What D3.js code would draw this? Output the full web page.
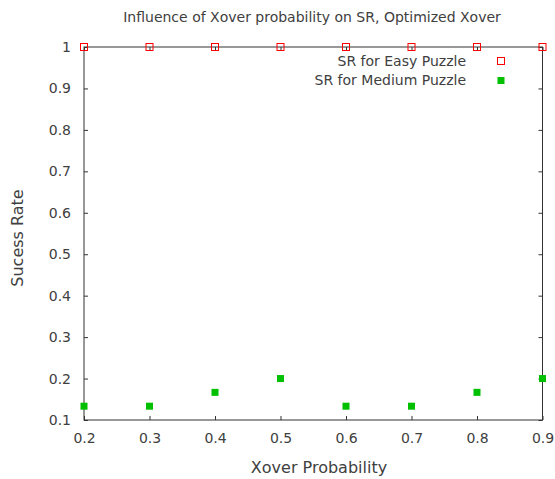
<!DOCTYPE html>
<html><head><meta charset="utf-8">
<script src="https://cdn.jsdelivr.net/npm/d3@7"></script>
<style>body{margin:0;background:#fff}svg{display:block}text{font-family:"DejaVu Sans",sans-serif;fill:#404040}</style>
</head><body><svg id="c" width="555" height="479"></svg>
<script>
const xProb = [0.2,0.3,0.4,0.5,0.6,0.7,0.8,0.9];
const easySR = [1,1,1,1,1,1,1,1];
const mediumSR = [0.1333,0.1333,0.1667,0.2,0.1333,0.1333,0.1667,0.2];
const xTicks = [0.2,0.3,0.4,0.5,0.6,0.7,0.8,0.9];
const yTicks = [0.1,0.2,0.3,0.4,0.5,0.6,0.7,0.8,0.9,1];
const seriesNames = ["SR for Easy Puzzle","SR for Medium Puzzle"];

const svg = d3.select("#c");
const L=84,R=542.5,T=47,B=420;
const x = d3.scaleLinear().domain([0.2,0.9]).range([L,R]);
const y = d3.scaleLinear().domain([0.1,1]).range([B,T]);
const fmt = d => String(+d.toFixed(1)).replace(/^1\.0$/,"1");

const tl=4;
const gx=svg.append("g").attr("transform",`translate(0,${B})`)
  .call(d3.axisBottom(x).tickValues(xTicks).tickSize(-tl).tickPadding(0).tickFormat(fmt));
const gy=svg.append("g").attr("transform",`translate(${L},0)`)
  .call(d3.axisLeft(y).tickValues(yTicks).tickSize(-tl).tickPadding(13).tickFormat(fmt));
const gt=svg.append("g").attr("transform",`translate(0,${T})`)
  .call(d3.axisTop(x).tickValues(xTicks).tickSize(-tl).tickFormat(""));
const gr=svg.append("g").attr("transform",`translate(${R},0)`)
  .call(d3.axisRight(y).tickValues(yTicks).tickSize(-tl).tickFormat(""));
[gx,gy,gt,gr].forEach(g=>{g.select(".domain").remove();
  g.selectAll(".tick line").attr("stroke","#333");
  g.selectAll(".tick text").attr("font-size",14).attr("fill","#404040").attr("font-family","DejaVu Sans, sans-serif");});
gx.selectAll(".tick text").attr("y",18).attr("dy","0.35em");

svg.append("rect").attr("x",L).attr("y",T).attr("width",R-L).attr("height",B-T)
  .attr("fill","none").attr("stroke","#333").attr("stroke-width",1);

const s=7;
svg.append("g").selectAll("rect").data(xProb.map((v,i)=>[v,easySR[i]])).join("rect")
  .attr("x",d=>x(d[0])-s/2).attr("y",d=>y(d[1])-s/2).attr("width",s).attr("height",s)
  .attr("fill","none").attr("stroke","#ff0000").attr("stroke-width",1);
svg.append("g").selectAll("rect").data(xProb.map((v,i)=>[v,mediumSR[i]])).join("rect")
  .attr("x",d=>x(d[0])-s/2).attr("y",d=>y(d[1])-s/2).attr("width",s).attr("height",s)
  .attr("fill","#00c000");

// legend
const lg=svg.append("g");
seriesNames.forEach((n,i)=>{
  const yy=61+i*19.5;
  lg.append("text").attr("x",466).attr("y",yy).attr("dy","0.35em").attr("text-anchor","end").attr("font-size",14).text(n);
  const r=lg.append("rect").attr("x",501-s/2).attr("y",yy-s/2).attr("width",s).attr("height",s);
  if(i===0) r.attr("fill","none").attr("stroke","#ff0000");
  else r.attr("fill","#00c000");
});

svg.append("text").attr("x",312).attr("y",17).attr("dy","0.35em").attr("text-anchor","middle").attr("font-size",14)
  .text("Influence of Xover probability on SR, Optimized Xover");
svg.append("text").attr("x",319).attr("y",467).attr("dy","0.35em").attr("text-anchor","middle").attr("font-size",16)
  .text("Xover Probability");
svg.append("text").attr("transform","translate(17,238) rotate(-90)").attr("dy","0.35em").attr("text-anchor","middle").attr("font-size",16)
  .text("Sucess Rate");
</script></body></html>
